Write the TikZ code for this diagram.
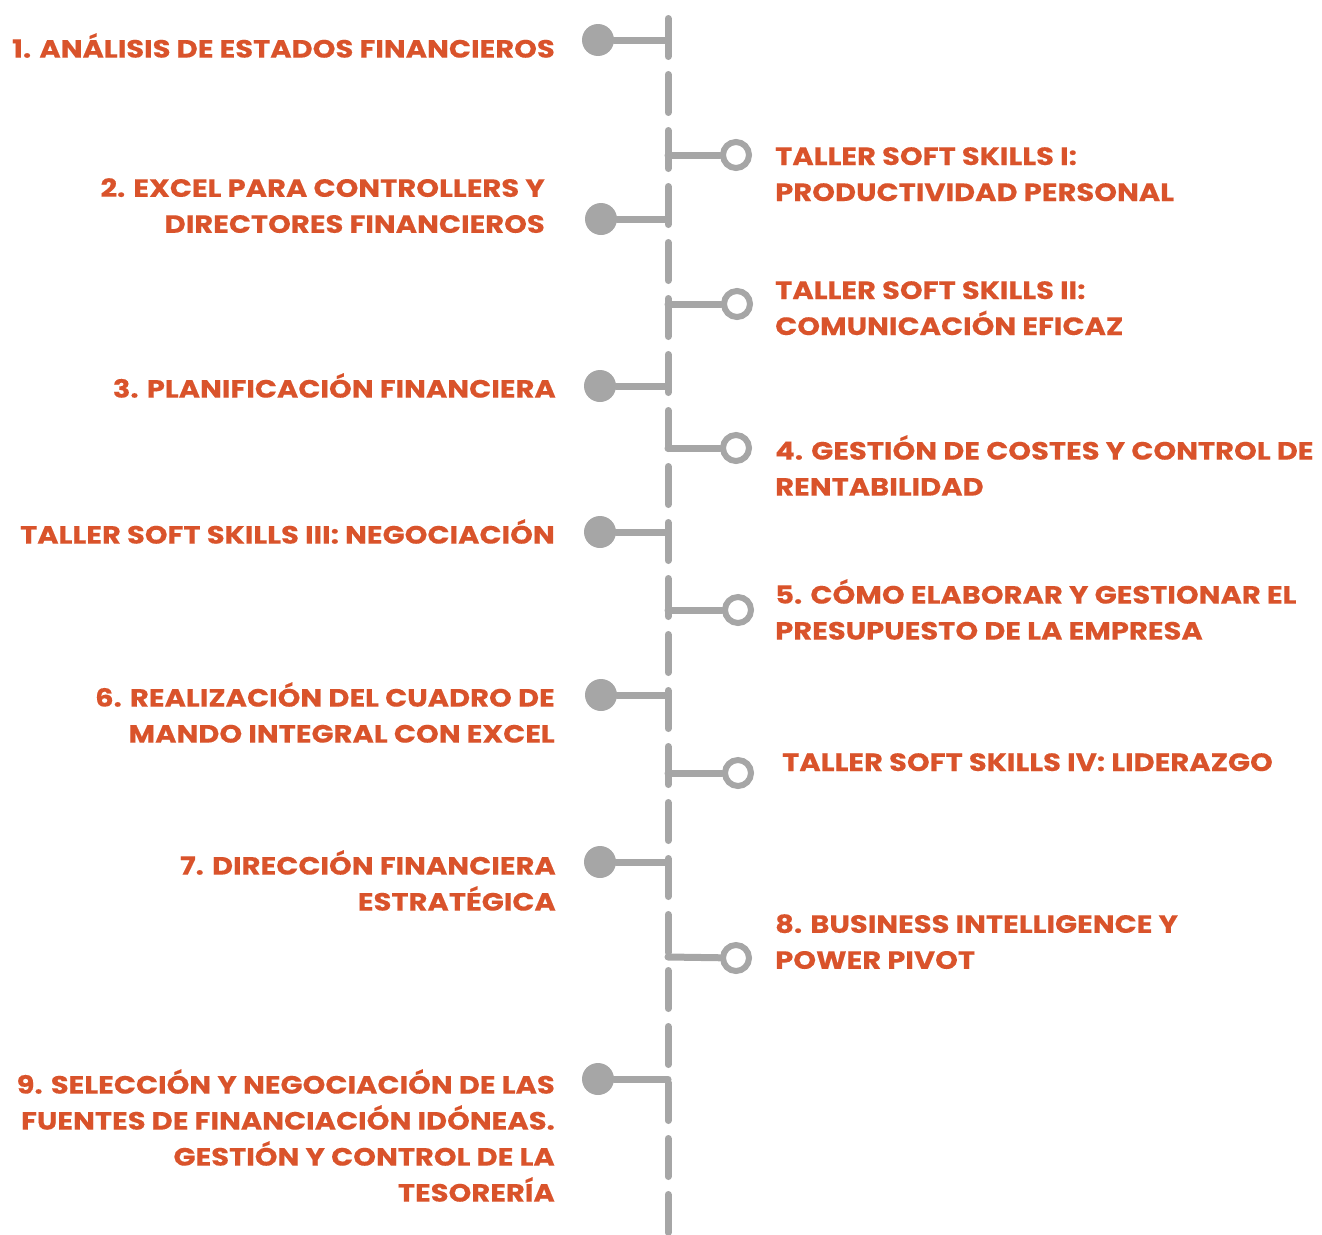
\documentclass[tikz,border=0pt]{standalone}
\usepackage{fontspec}
\setmainfont{Poppins}[BoldFeatures={FakeStretch=1.16,FakeBold=0.3}]
\usetikzlibrary{positioning,calc}

\definecolor{linegray}{HTML}{A6A6A6}
\definecolor{titleorange}{HTML}{D9532B}

\begin{document}
\begin{tikzpicture}[
    x=1pt, y=-1pt,
    spine/.style={linegray, line width=7pt, line cap=round, dash pattern=on 38pt off 18pt},
    link/.style={linegray, line width=7pt, line cap=round},
    dot/.style={circle, fill=linegray, minimum size=32pt, inner sep=0pt},
    ring/.style={circle, draw=linegray, line width=6pt, fill=white, minimum size=26pt, inner sep=0pt},
    lefttext/.style={anchor=north east, align=right, inner sep=0pt, text=titleorange, font=\fontsize{25}{36}\selectfont\bfseries},
    righttext/.style={anchor=north west, align=left, inner sep=0pt, text=titleorange, font=\fontsize{25}{36}\selectfont\bfseries}
]
\useasboundingbox (0,0) rectangle (1322,1234);

% Spine
\coordinate (top) at (668,18.5);
\coordinate (bottom) at (668,1240);
\draw[spine] (top) -- (bottom);

% Left items (filled dots)
\node[dot] (d1) at (598,40) {};
\node[dot] (d2) at (601,219) {};
\node[dot] (d3) at (600,386) {};
\node[dot] (d4) at (600,532) {};
\node[dot] (d5) at (601,695) {};
\node[dot] (d6) at (600,862) {};
\node[dot] (d7) at (598,1079) {};

\node[lefttext] (l1) at (555,33) {1. ANÁLISIS DE ESTADOS FINANCIEROS};
\node[lefttext] (l2) at (545,178) {2. EXCEL PARA CONTROLLERS Y\\DIRECTORES FINANCIEROS};
\node[lefttext] (l3) at (556,373) {3. PLANIFICACIÓN FINANCIERA};
\node[lefttext] (l4) at (555,519) {TALLER SOFT SKILLS III: NEGOCIACIÓN};
\node[lefttext] (l5) at (555,682) {6. REALIZACIÓN DEL CUADRO DE\\MANDO INTEGRAL CON EXCEL};
\node[lefttext] (l6) at (556,850) {7. DIRECCIÓN FINANCIERA\\ESTRATÉGICA};
\node[lefttext] (l7) at (555,1069) {9. SELECCIÓN Y NEGOCIACIÓN DE LAS\\FUENTES DE FINANCIACIÓN IDÓNEAS.\\GESTIÓN Y CONTROL DE LA\\TESORERÍA};

% Right items (rings)
\node[ring] (r1) at (736,155) {};
\node[ring] (r2) at (737,304) {};
\node[ring] (r3) at (736,448) {};
\node[ring] (r4) at (738,610) {};
\node[ring] (r5) at (738,773) {};
\node[ring] (r6) at (736,958) {};

\node[righttext] (t1) at (775,147) {TALLER SOFT SKILLS I:\\PRODUCTIVIDAD PERSONAL};
\node[righttext] (t2) at (775,281) {TALLER SOFT SKILLS II:\\COMUNICACIÓN EFICAZ};
\node[righttext] (t3) at (775,435) {4. GESTIÓN DE COSTES Y CONTROL DE\\RENTABILIDAD};
\node[righttext] (t4) at (775,579) {5. CÓMO ELABORAR Y GESTIONAR EL\\PRESUPUESTO DE LA EMPRESA};
\node[righttext] (t5) at (782,753) {TALLER SOFT SKILLS IV: LIDERAZGO};
\node[righttext] (t6) at (775,914) {8. BUSINESS INTELLIGENCE Y\\POWER PIVOT};

% Joints on the spine
\coordinate (j1) at (668,40);
\coordinate (j2) at (668,219);
\coordinate (j3) at (668,386);
\coordinate (j4) at (668,532);
\coordinate (j5) at (668,695);
\coordinate (j6) at (668,862);
\coordinate (j7) at (668,1079);
\coordinate (k1) at (668,155);
\coordinate (k2) at (668,304);
\coordinate (k3) at (668,448);
\coordinate (k4) at (668,610);
\coordinate (k5) at (668,773);
\coordinate (k6) at (668,957);

% Connectors
\foreach \i in {1,...,7} {
  \draw[link] (d\i) -- (j\i);
}
\foreach \i in {1,...,6} {
  \draw[link] (r\i) -- (k\i);
}

\end{tikzpicture}
\end{document}
